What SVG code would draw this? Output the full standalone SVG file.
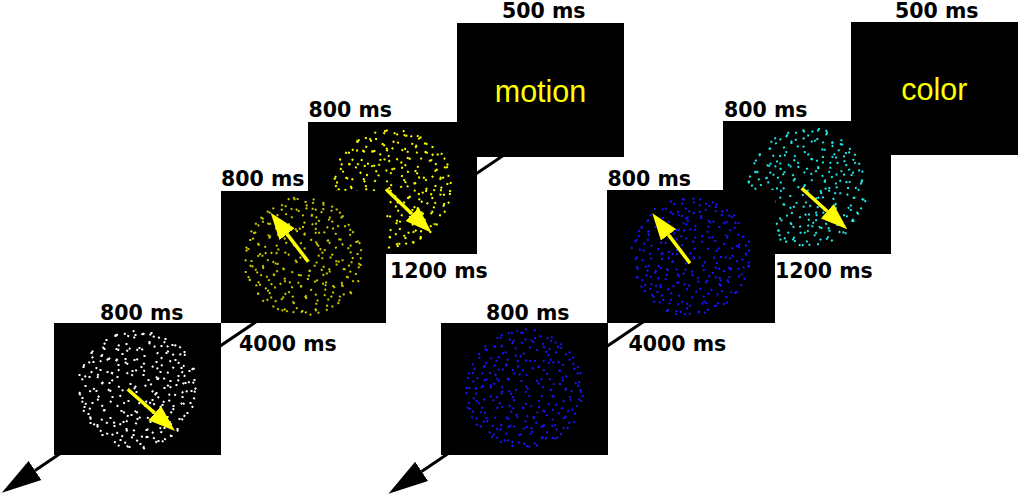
<svg xmlns="http://www.w3.org/2000/svg" width="1020" height="495" viewBox="0 0 1020 495">
<style>
.scr{fill:#000}
.lbl{font-family:"DejaVu Sans",sans-serif;font-weight:bold;font-size:20.5px;fill:#000}
.cue{font-family:"Liberation Sans",Arial,sans-serif;font-size:30.5px;fill:#ffff00;text-anchor:middle}
.axis{stroke:#000;stroke-width:3;fill:none;marker-end:url(#bigHead)}
.mv{stroke:#ffff00;stroke-width:3.5;marker-end:url(#yHead)}
.d{fill:none;stroke-width:2;stroke-linecap:square}
</style>
<defs>
<marker id="bigHead" markerUnits="userSpaceOnUse" viewBox="0 -13 42 26" markerWidth="42" markerHeight="26" refX="0" refY="0" orient="auto"><path d="M0,-11.5 L40,0 L0,11.5 Z" fill="#000"/></marker>
<marker id="yHead" markerUnits="userSpaceOnUse" viewBox="0 -10 28 20" markerWidth="28" markerHeight="20" refX="0" refY="0" orient="auto"><path d="M0,-9.5 L27,0 L0,9.5 Z" fill="#ffff00"/></marker>
<path id="dots" class="d" d="M12 -47h0M-33 21h0M45 8h0M-5 -18h0M27 39h0M-48 -12h0M3 55h0M-21 -40h0M38 -29h0M-14 33h0M52 -18h0M-40 36h0M19 4h0M-28 -6h0M7 -33h0M-55 9h0M28 -50h0M-9 12h0M42 30h0M-36 -33h0M16 24h0M-2 -54h0M-49 25h0M54 2h0M23 -17h0M-17 51h0M-44 -27h0M9 41h0M33 -8h0M-25 8h0M-7 -5h0M47 -37h0M-31 -49h0M21 52h0M-52 -3h0M4 -22h0M36 17h0M-19 -24h0M-35 46h0M11 -9h0M-11 -45h0M50 24h0M-23 37h0M29 -36h0M-45 14h0M0 30h0M14 -56h0M-58 -14h0M39 -4h0M-4 46h0M25 16h0M-30 -17h0M57 -9h0M-12 -30h0M8 17h0M-41 2h0M34 47h0M-22 -53h0M44 -21h0M-16 22h0M2 -41h0M-46 -36h0M19 -27h0M-8 58h0M30 28h0M-37 -19h0M13 33h0M-27 29h0M48 -6h0M-1 3h0M24 -43h0M-53 18h0M6 -14h0M-20 -12h0M40 40h0M-33 -40h0M15 11h0M-11 40h0M53 14h0M-15 -35h0M35 -44h0M-6 26h0M27 -1h0M-47 34h0M10 48h0M-29 -30h0M41 -13h0M-3 -29h0M-54 -22h0M20 -10h0"/>
</defs>

<g id="connectors">
<line class="axis" x1="510" y1="151" x2="35" y2="470.5"/>
<line class="axis" x1="800" y1="216" x2="421.6" y2="471.4"/>
</g>

<!-- motion sequence -->
<g id="motion-cue">
<rect class="scr" x="457" y="23" width="167" height="134"/>
<text class="cue" x="540.5" y="101.7">motion</text>
<text class="lbl" x="502" y="17.5">500 ms</text>
</g>
<g id="motion-stim2">
<rect class="scr" x="308" y="122" width="169" height="132"/>
<g stroke="#ffff00">
<use href="#dots" transform="translate(392.5 188) rotate(15)"/>
<use href="#dots" transform="translate(392.5 188) rotate(137)"/>
<use href="#dots" transform="translate(392.5 188) scale(-1 1) rotate(253)"/>
</g>
<line class="mv" x1="386" y1="189.3" x2="412.1" y2="214.1"/>
<text class="lbl" x="308.5" y="117">800 ms</text>
</g>
<g id="motion-stim1">
<rect class="scr" x="221" y="191" width="165" height="132"/>
<g stroke="#c8c800">
<use href="#dots" transform="translate(303.5 257) rotate(62)"/>
<use href="#dots" transform="translate(303.5 257) scale(-1 1) rotate(181)"/>
<use href="#dots" transform="translate(303.5 257) rotate(299)"/>
</g>
<line class="mv" x1="308.3" y1="261.7" x2="287.1" y2="234.1"/>
<text class="lbl" x="221" y="186">800 ms</text>
</g>
<g id="motion-sample">
<rect class="scr" x="54" y="323" width="167" height="132"/>
<g stroke="#ffffff">
<use href="#dots" transform="translate(137.5 389) rotate(0)"/>
<use href="#dots" transform="translate(137.5 389) rotate(122)"/>
<use href="#dots" transform="translate(137.5 389) scale(-1 1) rotate(238)"/>
</g>
<line class="mv" x1="127.7" y1="389.3" x2="154.75" y2="413.15"/>
<text class="lbl" x="100" y="320">800 ms</text>
</g>

<!-- color sequence -->
<g id="color-cue">
<rect class="scr" x="851" y="22" width="167" height="133"/>
<text class="cue" x="934.4" y="100">color</text>
<text class="lbl" x="895" y="18.3">500 ms</text>
</g>
<g id="color-stim2">
<rect class="scr" x="723" y="121" width="168" height="133"/>
<g stroke="#22e5e5">
<use href="#dots" transform="translate(807 187.5) rotate(88)"/>
<use href="#dots" transform="translate(807 187.5) scale(-1 1) rotate(205)"/>
<use href="#dots" transform="translate(807 187.5) rotate(327)"/>
</g>
<line class="mv" x1="801.7" y1="188.3" x2="827.2" y2="211.25"/>
<text class="lbl" x="724" y="116.7">800 ms</text>
</g>
<g id="color-stim1">
<rect class="scr" x="607" y="190" width="168" height="133"/>
<g stroke="#1616ff">
<use href="#dots" transform="translate(691 256.5) scale(-1 1) rotate(30)"/>
<use href="#dots" transform="translate(691 256.5) rotate(152)"/>
<use href="#dots" transform="translate(691 256.5) rotate(271)"/>
</g>
<line class="mv" x1="690" y1="263.3" x2="668.55" y2="234.86"/>
<text class="lbl" x="607.5" y="185.5">800 ms</text>
</g>
<g id="color-sample">
<rect class="scr" x="441" y="323" width="167" height="132"/>
<g stroke="#1616ff">
<use href="#dots" transform="translate(524.5 389) rotate(200)"/>
<use href="#dots" transform="translate(524.5 389) scale(-1 1) rotate(75)"/>
<use href="#dots" transform="translate(524.5 389) rotate(318)"/>
</g>
<text class="lbl" x="486" y="320">800 ms</text>
</g>

<g id="interval-labels">
<text class="lbl" x="390" y="278">1200 ms</text>
<text class="lbl" x="239" y="350.5">4000 ms</text>
<text class="lbl" x="775" y="278">1200 ms</text>
<text class="lbl" x="628.5" y="350.5">4000 ms</text>
</g>
</svg>
